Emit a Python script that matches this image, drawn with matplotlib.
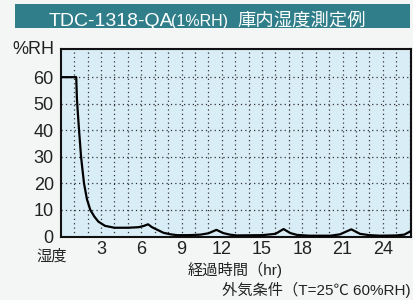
import matplotlib
matplotlib.use("Agg")
import matplotlib.pyplot as plt
from matplotlib.patches import Rectangle

plt.rcParams['font.family'] = ['Liberation Sans', 'Noto Sans CJK JP', 'DejaVu Sans']

# 経過時間 (hr) と 湿度 (%RH)
hours = [0, 1.15, 1.2, 1.25, 1.36, 1.51, 1.73, 1.95, 2.2, 2.5, 2.8, 3.3, 4.0, 5.0,
         5.8, 6.2, 6.5, 6.8, 7.2, 7.65, 8.2, 8.7, 9.5, 10.4, 11.0, 11.6, 12.1,
         12.6, 13.1, 15.0, 16.0, 16.6, 17.1, 17.6, 18.5, 20.1, 20.8, 21.65, 22.3,
         23.0, 23.8, 25.0, 25.6, 26.0, 26.2]
humidity = [60, 60, 52, 48, 40, 30, 20, 14, 10, 7.5, 5.6, 4.0, 3.3, 3.3,
            3.5, 4.0, 4.6, 3.5, 2.5, 1.4, 0.8, 0.5, 0.5, 0.7, 1.2, 2.5, 1.3,
            0.7, 0.4, 0.5, 1.0, 2.8, 1.3, 0.6, 0.3, 0.3, 0.8, 2.7, 1.0,
            0.5, 0.3, 0.4, 0.7, 1.8, 2.5]

y_ticks = [0, 10, 20, 30, 40, 50, 60]
x_labels = [3, 6, 9, 12, 15, 18, 21, 24]

W, H = 413, 300
fig = plt.figure(figsize=(W / 100, H / 100), dpi=100, facecolor='#f4f6f6')

def px(x, y):
    return x / W, 1 - y / H

# title bar
fig.patches.append(Rectangle(px(15, 28), 395 / W, 24 / H, transform=fig.transFigure,
                             facecolor='#2f7e89', edgecolor='none'))
fig.text(*px(49, 26), "TDC-1318-QA", color='white', fontsize=14, va='baseline', ha='left')
fig.text(*px(171, 26), "(1%RH)", color='white', fontsize=11.5, va='baseline', ha='left')
fig.text(*px(237, 26), "庫内湿度測定例", color='white', fontsize=13.2, va='baseline', ha='left',
         family=['Noto Sans CJK JP'])

l, b = px(60.8, 236.5)
r, t = px(411, 49.3)
ax = fig.add_axes([l, b, r - l, t - b])
ax.set_facecolor('#d9edf7')

ax.plot(hours, humidity, color='black', lw=1.6, zorder=3)

ax.set_xlim(0, 26.1)
ax.set_ylim(0, 70.5)
ax.set_xticks(range(1, 27))
ax.set_xticklabels([str(h) if h in x_labels else '' for h in range(1, 27)])
ax.set_yticks(y_ticks)
ax.tick_params(length=0, labelsize=13, labelcolor='#222222')
ax.tick_params(axis='y', pad=5)
ax.tick_params(axis='x', pad=3.5)
ax.grid(True, color='#333333', lw=0.9, linestyle=(0, (1, 2.5)))
ax.set_axisbelow(True)
for s in ax.spines.values():
    s.set_linewidth(1.5)
    s.set_color('#111111')

fig.text(*px(54, 49), "%RH", fontsize=13, ha='right', va='center', color='#222222')
fig.text(*px(52, 256), "湿度", fontsize=11, ha='center', va='center', color='#222222')
fig.text(*px(235, 270), "経過時間（hr)", fontsize=11, ha='center', va='center', color='#222222')
fig.text(*px(411, 290), "外気条件（T=25℃ 60%RH)", fontsize=11, ha='right', va='center',
         color='#222222')

fig.savefig("out.png", dpi=100, facecolor=fig.get_facecolor())
